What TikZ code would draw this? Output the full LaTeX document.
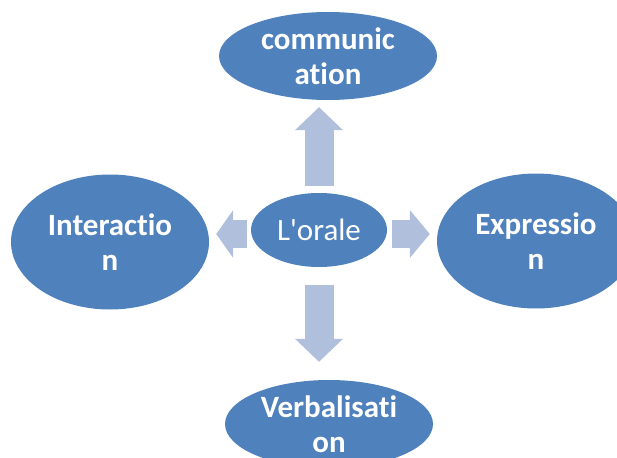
\documentclass[tikz,border=0pt]{standalone}
\usepackage{fontspec}
\setmainfont{Carlito}[Ligatures={NoCommon,TeXOff}]
\usetikzlibrary{arrows.meta, shapes.geometric}

\definecolor{ovalblue}{HTML}{4F81BD}
\definecolor{arrowblue}{HTML}{B0C0DC}

\tikzset{
    oval/.style={ellipse, fill=ovalblue, draw=none, inner sep=0pt, text=white, align=center,
        font=\fontsize{31}{35}\selectfont\bfseries},
    blockarrow/.style={draw=arrowblue, line width=29pt,
        -{Triangle[length=#1, width=48pt, line width=0pt, fill=arrowblue]}},
}

\begin{document}
\begin{tikzpicture}[x=1pt,y=-1pt]

    \useasboundingbox (0,0) rectangle (617,457);

    % the five ovals
    \node[oval, minimum width=136pt, minimum height=74pt, font=\fontsize{31}{35}\selectfont] (orale) at (319,230) {L'orale};
    \node[oval, minimum width=218pt, minimum height=88pt] (comm) at (328,56) {communic\\ation};
    \node[oval, minimum width=198pt, minimum height=135pt] (inter) at (110,242) {Interactio\\n};
    \node[oval, minimum width=198pt, minimum height=135pt] (expr) at (536,241) {Expressio\\n};
    \node[oval, minimum width=208pt, minimum height=88pt] (verb) at (329,424) {Verbalisati\\on};

    % block arrows
    \draw[blockarrow=23pt, shorten <=7pt, shorten >=7pt] (orale.north) -- (orale.north |- comm.south);
    \draw[blockarrow=17pt, line width=28pt, shorten <=4pt, shorten >=7pt] ([yshift=-4pt]orale.west) -- ([yshift=-4pt]orale.west -| inter.east);
    \draw[blockarrow=20pt, line width=28pt, shorten <=5pt, shorten >=7pt] ([yshift=-4pt]orale.east) -- ([yshift=-4pt]orale.east -| expr.west);
    \draw[blockarrow=23pt, shorten <=18pt, shorten >=18pt] (orale.south) -- (orale.south |- verb.north);

\end{tikzpicture}
\end{document}
